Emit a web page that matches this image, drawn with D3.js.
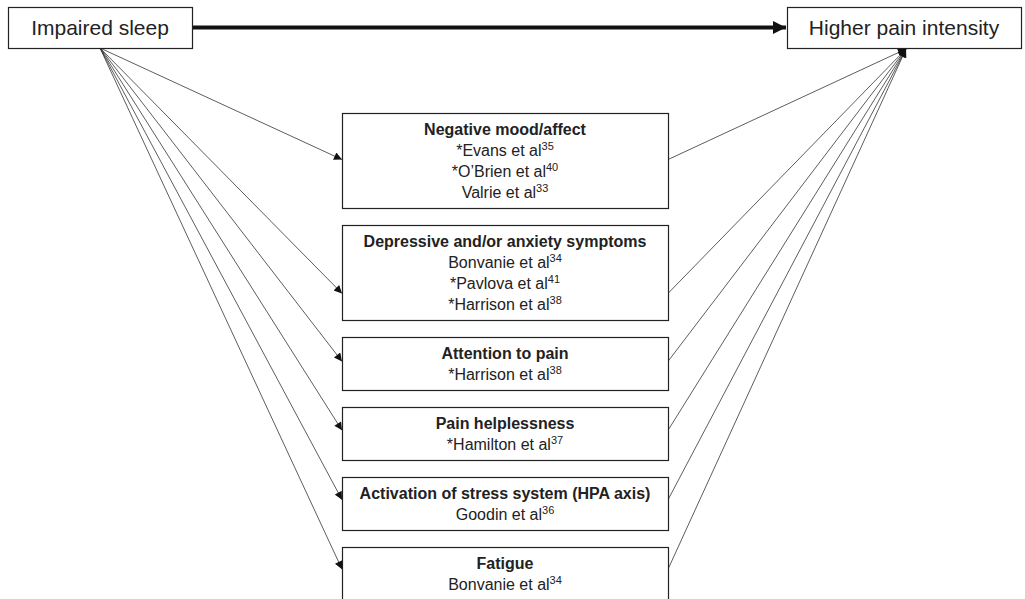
<!DOCTYPE html>
<html>
<head>
<meta charset="utf-8">
<script src="https://cdn.jsdelivr.net/npm/d3@7"></script>
<style>
  body { margin: 0; background: #fff; }
  text { font-family: "Liberation Sans", Arial, Helvetica, sans-serif; fill: #222; }
</style>
</head>
<body>
<script>
var width = 1025, height = 599;

// nodes of the diagram
var sourceLabel = "Impaired sleep";
var outcomeLabel = "Higher pain intensity";

var mediatorTitles = [
  "Negative mood/affect",
  "Depressive and/or anxiety symptoms",
  "Attention to pain",
  "Pain helplessness",
  "Activation of stress system (HPA axis)",
  "Fatigue"
];

// studies per mediator: [author text, reference number]
var mediatorStudies = [
  [["*Evans et al", "35"], ["*O\u2019Brien et al", "40"], ["Valrie et al", "33"]],
  [["Bonvanie et al", "34"], ["*Pavlova et al", "41"], ["*Harrison et al", "38"]],
  [["*Harrison et al", "38"]],
  [["*Hamilton et al", "37"]],
  [["Goodin et al", "36"]],
  [["Bonvanie et al", "34"]]
];

// where the arrows meet each box (fraction of box height)
var anchorFrac = [0.49, 0.72, 0.46, 0.44, 0.43, 0.42];

var lineH = 21, boxPad = 11, gap = 17, firstTop = 113;
var boxX0 = 342, boxX1 = 668;

var svg = d3.select("body")
    .append("svg")
    .attr("width", width)
    .attr("height", height);

var defs = svg.append("defs");
defs.append("marker")
    .attr("id", "head")
    .attr("viewBox", "0 0 10 10")
    .attr("refX", 10).attr("refY", 5)
    .attr("markerUnits", "userSpaceOnUse")
    .attr("markerWidth", 10).attr("markerHeight", 8)
    .attr("orient", "auto")
  .append("path")
    .attr("d", "M0,0L10,5L0,10z")
    .attr("fill", "#111");
defs.append("marker")
    .attr("id", "bighead")
    .attr("viewBox", "0 0 10 10")
    .attr("refX", 10).attr("refY", 5)
    .attr("markerUnits", "userSpaceOnUse")
    .attr("markerWidth", 13).attr("markerHeight", 13)
    .attr("orient", "auto")
  .append("path")
    .attr("d", "M0,0L10,5L0,10z")
    .attr("fill", "#111");

// layout of the mediator boxes, stacked top to bottom
var yCursor = firstTop;
var boxes = mediatorTitles.map(function(t, i) {
  var n = 1 + mediatorStudies[i].length;
  var h = n * lineH + boxPad;
  var b = { title: t, studies: mediatorStudies[i], y: yCursor, h: h, anchor: yCursor + h * anchorFrac[i] };
  yCursor += h + gap;
  return b;
});

var src = { x0: 8, x1: 192, y0: 7, y1: 48 };
var out = { x0: 787, x1: 1021, y0: 7, y1: 48 };
var srcPt = [100, src.y1], outPt = [906, out.y1 + 1];

// thin connectors
var links = svg.append("g");
links.selectAll(".in")
  .data(boxes)
  .enter().append("line")
    .attr("x1", srcPt[0]).attr("y1", srcPt[1])
    .attr("x2", boxX0).attr("y2", function(d) { return d.anchor; })
    .attr("stroke", "#333").attr("stroke-width", 0.8)
    .attr("marker-end", "url(#head)");
links.selectAll(".out")
  .data(boxes)
  .enter().append("line")
    .attr("x1", boxX1).attr("y1", function(d) { return d.anchor; })
    .attr("x2", outPt[0]).attr("y2", outPt[1])
    .attr("stroke", "#333").attr("stroke-width", 0.8)
    .attr("marker-end", "url(#head)");

// direct effect
svg.append("line")
    .attr("x1", src.x1).attr("y1", 27.5)
    .attr("x2", out.x0 - 1).attr("y2", 27.5)
    .attr("stroke", "#111").attr("stroke-width", 4)
    .attr("marker-end", "url(#bighead)");

// end nodes
[[src, sourceLabel], [out, outcomeLabel]].forEach(function(p) {
  var b = p[0];
  svg.append("rect")
      .attr("x", b.x0 + 0.5).attr("y", b.y0 + 0.5)
      .attr("width", b.x1 - b.x0).attr("height", b.y1 - b.y0)
      .attr("fill", "#fff").attr("stroke", "#222").attr("stroke-width", 1.2);
  svg.append("text")
      .attr("x", (b.x0 + b.x1) / 2).attr("y", (b.y0 + b.y1) / 2 + 7)
      .attr("text-anchor", "middle")
      .attr("font-size", 21)
      .text(p[1]);
});

// mediator boxes
var g = svg.append("g").selectAll("g")
  .data(boxes)
  .enter().append("g");

g.append("rect")
    .attr("x", boxX0 + 0.5).attr("y", function(d) { return d.y + 0.5; })
    .attr("width", boxX1 - boxX0).attr("height", function(d) { return d.h; })
    .attr("fill", "#fff").attr("stroke", "#222").attr("stroke-width", 1.2);

g.append("text")
    .attr("x", (boxX0 + boxX1) / 2)
    .attr("y", function(d) { return d.y + 22; })
    .attr("text-anchor", "middle")
    .attr("font-size", 16)
    .attr("font-weight", "bold")
    .text(function(d) { return d.title; });

g.each(function(d) {
  var sel = d3.select(this);
  d.studies.forEach(function(s, j) {
    var t = sel.append("text")
        .attr("x", (boxX0 + boxX1) / 2)
        .attr("y", d.y + 22 + (j + 1) * lineH)
        .attr("text-anchor", "middle")
        .attr("font-size", 16);
    t.append("tspan").text(s[0]);
    t.append("tspan")
        .attr("dy", -6)
        .attr("font-size", 11)
        .text(s[1]);
  });
});
</script>
</body>
</html>
